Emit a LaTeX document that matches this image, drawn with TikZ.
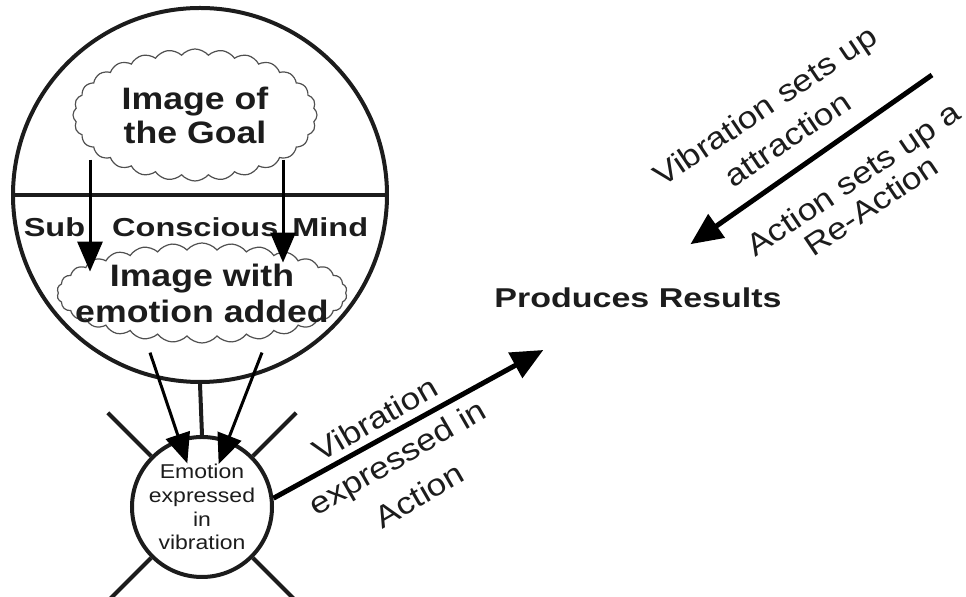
\documentclass[tikz,border=0pt]{standalone}
\usepackage{fontspec}
\setmainfont{Liberation Sans}[FakeStretch=1.15]
\newfontfamily\widefont{Liberation Sans}[FakeStretch=1.25]
\usepackage{tikz}
\usetikzlibrary{
  arrows.meta,
  shapes.symbols,
  calc,
  positioning
}
\definecolor{mindInk}{HTML}{1C1C1C}
\definecolor{mindPuff}{HTML}{505050}
\tikzset{
  mind/.style={circle, draw=mindInk, line width=2pt, minimum size=187pt, inner sep=0pt},
  cloudbox/.style={
    cloud, cloud puffs=28, cloud puff arc=100, cloud ignores aspect,
    draw=mindPuff, line width=0.6pt, fill=white, inner sep=0pt,
    font=\bfseries\fontsize{15.5}{17}\selectfont, align=center, text=mindInk
  },
  vibe/.style={
    circle, draw=mindInk, line width=2pt, minimum size=70pt, inner sep=0pt,
    font=\fontsize{10}{11.9}\selectfont, align=center, text=mindInk
  },
  divider/.style={line width=2pt, mindInk},
  ray/.style={line width=2pt, mindInk},
  flow/.style={-{Triangle[length=15pt, width=12.5pt]}, line width=1.5pt, black},
  thrust/.style={-{Triangle[length=16pt, width=14pt]}, line width=2.5pt, black},
  heading/.style={font=\widefont\bfseries\fontsize{13.6}{16}\selectfont, text=mindInk},
  tag/.style={font=\fontsize{15.3}{22}\selectfont, align=center, text=mindInk}
}
\begin{document}
\begin{tikzpicture}[x=0.5pt, y=-0.5pt]
  \useasboundingbox (0,0) rectangle (966,597);
  % the mind, split into conscious and sub conscious halves
  \node[mind] (mind) at (200,195) {};
  \draw[divider] (mind.west) -- (mind.east);
  \node[cloudbox, minimum width=122pt, minimum height=66pt] (goal) at (195,115) {Image of\\the Goal};
  \node[heading, font=\widefont\bfseries\fontsize{13}{16}\selectfont] (sub) at (196,227) {Sub\hspace{9pt} Conscious\hspace{2.5pt} Mind};
  \node[cloudbox, cloud puffs=30, inner xsep=-24pt, inner ysep=-6pt, minimum width=145pt, minimum height=50pt,
        font=\bfseries\fontsize{15.5}{18}\selectfont] (emo) at (202,293) {Image with\\emotion added};
  \draw[flow] (goal.south) ++(-105,-22) -- ++(0,112);
  \draw[flow] (goal.south) ++(88,-22) -- ++(0,103);
  % vibration node with its rays
  \node[vibe] (vib) at (202,507) {Emotion\\expressed\\in\\vibration};
  \draw[divider] (mind.south) -- (vib.north);
  \foreach \ang in {45,135,225,315}
    \draw[ray] (vib.\ang) -- ($(vib.center)!1.85!(vib.\ang)$);
  \draw[flow, shorten >=23pt] ([shift={(-52,9)}]emo.south) -- (vib.center);
  \draw[flow, shorten >=23pt] ([shift={(60,9)}]emo.south) -- (vib.center);
  % results and the two forces acting on them
  \node[heading] (results) at (638,298) {Produces Results};
  \coordinate (pull) at (932,75);
  \draw[thrust, shorten >=54pt] (vib.7) -- (results.center);
  \draw[thrust, shorten >=32pt] (pull) -- (results.north);
  \node[tag, rotate=30] (actlbl) at (397,457) {Vibration\\expressed in\\Action};
  \node[tag, rotate=34, font=\fontsize{15.3}{20}\selectfont] (pulllbl) at (776,122) {Vibration sets up\\attraction};
  \node[tag, rotate=34, font=\fontsize{15.3}{16}\selectfont] (reactlbl) at (862,192) {Action sets up a\\Re-Action};
\end{tikzpicture}
\end{document}
